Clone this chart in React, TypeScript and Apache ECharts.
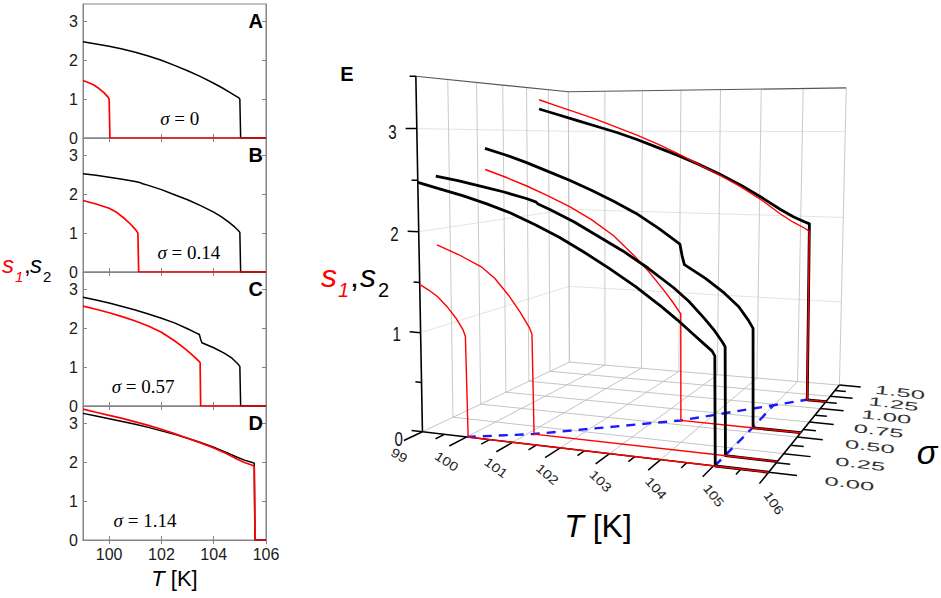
import React, { useEffect, useRef } from "react";
import * as echarts from "echarts";

const SANS = "'Liberation Sans', Arial, sans-serif";
const SERIF = "'Liberation Serif', 'Times New Roman', serif";

// ---------------- data ----------------
const sigmaValues = [0, 0.14, 0.57, 1.14];
const sigmaText = ["0", "0.14", "0.57", "1.14"];
const panelLetters = ["A", "B", "C", "D"];

// sigma = 0
const tS2_A = [99, 99.5, 100, 100.5, 101, 101.5, 102, 102.5, 103, 103.5, 104, 104.3, 104.6, 104.8, 104.95, 105, 105.03, 106];
const s2_A = [2.48, 2.42, 2.36, 2.29, 2.21, 2.11, 2.0, 1.87, 1.73, 1.58, 1.41, 1.3, 1.18, 1.1, 1.04, 1.0, 0, 0];
const tS1_A = [99, 99.2, 99.4, 99.6, 99.8, 99.95, 100, 100.03, 106];
const s1_A = [1.48, 1.43, 1.37, 1.28, 1.17, 1.06, 1.0, 0, 0];
// sigma = 0.14
const tS2_B = [99, 99.5, 100, 100.5, 101, 101.2, 101.25, 101.5, 102, 102.5, 103, 103.5, 104, 104.3, 104.6, 104.8, 104.95, 105, 105.03, 106];
const s2_B = [2.53, 2.49, 2.44, 2.39, 2.33, 2.3, 2.28, 2.23, 2.12, 1.99, 1.86, 1.71, 1.54, 1.42, 1.27, 1.16, 1.06, 1.02, 0, 0];
const tS1_B = [99, 99.5, 100, 100.3, 100.6, 100.85, 101.05, 101.1, 101.13, 106];
const s1_B = [1.84, 1.75, 1.64, 1.53, 1.37, 1.21, 1.06, 1.0, 0, 0];
// sigma = 0.57
const tS2_C = [99, 99.5, 100, 100.5, 101, 101.5, 102, 102.5, 103, 103.3, 103.45, 103.5, 103.55, 104, 104.4, 104.7, 104.9, 105, 105.03, 106];
const s2_C = [2.8, 2.73, 2.65, 2.56, 2.47, 2.37, 2.26, 2.14, 1.99, 1.89, 1.84, 1.72, 1.63, 1.5, 1.36, 1.23, 1.1, 1.02, 0, 0];
const tS1_C = [99, 99.5, 100, 100.5, 101, 101.5, 102, 102.5, 102.8, 103.1, 103.3, 103.45, 103.48, 103.5, 106];
const s1_C = [2.57, 2.49, 2.4, 2.3, 2.19, 2.06, 1.9, 1.68, 1.53, 1.36, 1.24, 1.14, 1.12, 0, 0];
// sigma = 1.14
const tS2_D = [99, 99.5, 100, 100.5, 101, 101.5, 102, 102.5, 103, 103.5, 104, 104.5, 104.9, 105.2, 105.45, 105.55, 105.58, 106];
const s2_D = [3.26, 3.19, 3.12, 3.05, 2.98, 2.9, 2.81, 2.72, 2.62, 2.51, 2.39, 2.25, 2.13, 2.05, 2.0, 1.98, 0, 0];
const tS1_D = [99, 99.5, 100, 100.5, 101, 101.5, 102, 102.5, 103, 103.5, 104, 104.5, 104.9, 105.2, 105.45, 105.55, 105.58, 106];
const s1_D = [3.37, 3.29, 3.21, 3.13, 3.04, 2.95, 2.85, 2.74, 2.62, 2.5, 2.37, 2.22, 2.08, 1.99, 1.93, 1.9, 0, 0];

// phase-boundary lines on the floor of panel E
const tc1Sigma = [0, 0.14, 0.57, 1.14];
const tc1T = [100.0, 101.12, 103.5, 105.56];
const tc2Sigma = [0, 0.14, 0.57, 0.98];
const tc2T = [105.02, 105.02, 105.02, 104.99];

// ticks
const tTicks2D = [100, 102, 104, 106];
const sTicks2D = [0, 1, 2, 3];
const tTicks3D = [99, 100, 101, 102, 103, 104, 105, 106];
const sigmaTicks3D = [0, 0.25, 0.5, 0.75, 1.0, 1.25, 1.5];
const sigmaTickLabels = ["0.00", "0.25", "0.50", "0.75", "1.00", "1.25", "1.50"];
const sTicks3D = [0, 1, 2, 3];

// ---------------- panel-E camera (box corners on the page) ----------------
const boxCalib = [
  [99, 0, 0, 423, 432],
  [99, 0, 1, 420, 334],
  [99, 0, 2, 418, 232],
  [99, 0, 3, 417, 128],
  [99, 0, 3.5, 416, 76],
  [99, 0.5, 3.5, 477, 82],
  [99, 1.0, 3.5, 527, 88],
  [99, 1.5, 0, 569, 362],
  [99, 1.5, 3.5, 568, 92],
  [102, 1.5, 3.5, 681, 90],
  [106, 1.5, 0, 840, 385],
  [106, 1.5, 3.5, 846, 88],
  [106, 0, 0, 767, 475],
  [100, 0, 0, 467, 436],
  [105, 0, 0, 715, 463],
];

function fitCamera(pts: number[][]) {
  const A: number[][] = [];
  const b: number[] = [];
  for (const [T, g, s, px, py] of pts) {
    const X = (T - 99) / 7, Y = g / 1.5, Z = s / 3.5;
    const u = (px - 600) / 300, v = (py - 300) / 300;
    A.push([X, Y, Z, 1, 0, 0, 0, 0, -u * X, -u * Y, -u * Z]);
    b.push(u);
    A.push([0, 0, 0, 0, X, Y, Z, 1, -v * X, -v * Y, -v * Z]);
    b.push(v);
  }
  const n = 11;
  const M = Array.from({ length: n }, () => new Array(n + 1).fill(0));
  for (let k = 0; k < A.length; k++) {
    for (let i = 0; i < n; i++) {
      for (let j = 0; j < n; j++) M[i][j] += A[k][i] * A[k][j];
      M[i][n] += A[k][i] * b[k];
    }
  }
  for (let i = 0; i < n; i++) M[i][i] += 1e-7;
  for (let c = 0; c < n; c++) {
    let piv = c;
    for (let r = c + 1; r < n; r++) if (Math.abs(M[r][c]) > Math.abs(M[piv][c])) piv = r;
    const tmp = M[c]; M[c] = M[piv]; M[piv] = tmp;
    for (let r = 0; r < n; r++) {
      if (r === c) continue;
      const f = M[r][c] / M[c][c];
      for (let j = c; j <= n; j++) M[r][j] -= f * M[c][j];
    }
  }
  return M.map((row, i) => row[n] / row[i]);
}
const P = fitCamera(boxCalib);
function proj(T: number, g: number, s: number): [number, number] {
  const X = (T - 99) / 7, Y = g / 1.5, Z = s / 3.5;
  const w = P[8] * X + P[9] * Y + P[10] * Z + 1;
  const u = (P[0] * X + P[1] * Y + P[2] * Z + P[3]) / w;
  const v = (P[4] * X + P[5] * Y + P[6] * Z + P[7]) / w;
  return [u * 300 + 600, v * 300 + 300];
}

// ---------------- helpers ----------------
const zip = (a: number[], b: number[]) => a.map((x, i) => [x, b[i]]);

function txt(x: number, y: number, text: string, o: any = {}) {
  const style: any = {
    text,
    fill: o.color || "#000",
    fontSize: o.size || 14,
    fontFamily: o.family || SANS,
    fontStyle: o.italic ? "italic" : "normal",
    fontWeight: o.bold ? "bold" : "normal",
    align: o.align || "center",
    textAlign: o.align || "center",
    verticalAlign: "middle",
    textVerticalAlign: "middle",
  };
  if (o.rich) style.rich = o.rich;
  return {
    type: "text",
    x,
    y,
    rotation: o.rot || 0,
    scaleX: o.sx || 1,
    scaleY: o.sy || 1,
    silent: true,
    z: 100,
    style,
  };
}

function buildOption() {
  const GRID_LEFT = 83, GRID_W = 183, GRID_H = 134;
  const GRID_TOPS = [4, 138, 272, 406];
  const Y_MAX = 3.45;
  const slices = [
    { tS2: tS2_A, s2: s2_A, tS1: tS1_A, s1: s1_A },
    { tS2: tS2_B, s2: s2_B, tS1: tS1_B, s1: s1_B },
    { tS2: tS2_C, s2: s2_C, tS1: tS1_C, s1: s1_C },
    { tS2: tS2_D, s2: s2_D, tS1: tS1_D, s1: s1_D },
  ];
  const frame = "#858585";
  const grid: any[] = [];
  const xAxis: any[] = [];
  const yAxis: any[] = [];
  const series: any[] = [];
  const graphic: any[] = [];

  slices.forEach((sl, i) => {
    grid.push({ left: GRID_LEFT, top: GRID_TOPS[i], width: GRID_W, height: GRID_H, show: true, borderColor: frame, borderWidth: 1 });
    const tickCommon = { show: true, inside: true, length: 4, lineStyle: { color: frame, width: 1 } };
    xAxis.push({
      gridIndex: i, type: "value", min: 99, max: 106, position: "bottom",
      axisLine: { show: true, lineStyle: { color: frame, width: 1 } },
      axisTick: { ...tickCommon, customValues: tTicks2D },
      axisLabel: { show: i === 3, customValues: tTicks2D, fontSize: 16, color: "#1a1a1a", fontFamily: SANS, margin: 6 },
      splitLine: { show: false },
    });
    xAxis.push({
      gridIndex: i, type: "value", min: 99, max: 106, position: "top",
      axisLine: { show: true, lineStyle: { color: frame, width: 1 } },
      axisTick: { ...tickCommon, customValues: tTicks2D },
      axisLabel: { show: false },
      splitLine: { show: false },
    });
    yAxis.push({
      gridIndex: i, type: "value", min: 0, max: Y_MAX, position: "left",
      axisLine: { show: true, lineStyle: { color: frame, width: 1 } },
      axisTick: { ...tickCommon, customValues: sTicks2D },
      axisLabel: { show: true, customValues: sTicks2D, fontSize: 16, color: "#1a1a1a", fontFamily: SANS, margin: 5 },
      splitLine: { show: false },
    });
    yAxis.push({
      gridIndex: i, type: "value", min: 0, max: Y_MAX, position: "right",
      axisLine: { show: true, lineStyle: { color: frame, width: 1 } },
      axisTick: { ...tickCommon, customValues: sTicks2D },
      axisLabel: { show: false },
      splitLine: { show: false },
    });
    series.push({
      type: "line", xAxisIndex: i * 2, yAxisIndex: i * 2, data: zip(sl.tS2, sl.s2),
      symbol: "none", showSymbol: false, lineStyle: { color: "#000", width: 1.5 }, z: 3, silent: true,
    });
    series.push({
      type: "line", xAxisIndex: i * 2, yAxisIndex: i * 2, data: zip(sl.tS1, sl.s1),
      symbol: "none", showSymbol: false, lineStyle: { color: "#ff0000", width: 1.7 }, z: 4, silent: true,
    });
    graphic.push(txt(263, GRID_TOPS[i] + 17, panelLetters[i], { size: 20, bold: true, align: "right" }));
  });

  // sigma labels inside panels
  const sigmaAnchor = [[102.7, 0.5], [103.05, 0.5], [101.3, 0.49], [101.37, 0.5]];
  sigmaAnchor.forEach(([T, s], i) => {
    const px = GRID_LEFT + ((T - 99) / 7) * GRID_W;
    const py = GRID_TOPS[i] + ((Y_MAX - s) / Y_MAX) * GRID_H;
    graphic.push(
      txt(px, py, "{i|σ} = " + sigmaText[i], {
        size: 19, family: SERIF,
        rich: { i: { fontStyle: "italic", fontSize: 19, fontFamily: SERIF, fill: "#000" } },
      })
    );
  });

  // left axis titles
  graphic.push(txt(2, 264, "s", { size: 24, italic: true, color: "#ff0000", align: "left" }));
  graphic.push(txt(15, 276, "1", { size: 15, italic: true, color: "#ff0000", align: "left" }));
  graphic.push(txt(24, 264, ",", { size: 24, align: "left" }));
  graphic.push(txt(30, 264, "s", { size: 24, italic: true, align: "left" }));
  graphic.push(txt(43, 276, "2", { size: 15, align: "left" }));
  graphic.push(
    txt(GRID_LEFT + GRID_W / 2, 578, "{i|T} [K]", {
      size: 22, rich: { i: { fontStyle: "italic", fontSize: 22, fontFamily: SANS, fill: "#000" } },
    })
  );

  // ---------------- panel E ----------------
  const SX = 8, SY = 8; // indices of the page-pixel axes
  grid.push({ left: 0, top: 0, width: 941, height: 598, show: false });
  xAxis.push({ gridIndex: 4, type: "value", min: 0, max: 941, show: false });
  yAxis.push({ gridIndex: 4, type: "value", min: 0, max: 598, inverse: true, show: false });

  const linesSeries = (polys: number[][][], style: any, z: number) => ({
    type: "lines", coordinateSystem: "cartesian2d", xAxisIndex: SX, yAxisIndex: SY,
    polyline: true, silent: true, z, animation: false,
    lineStyle: { opacity: 1, ...style },
    data: polys.map((c) => ({ coords: c })),
  });

  const sigmaGrid = sigmaTicks3D.slice(1);
  const floor: number[][][] = [];
  tTicks3D.forEach((T) => floor.push([proj(T, 0, 0), proj(T, 1.5, 0)]));
  sigmaGrid.forEach((g) => floor.push([proj(99, g, 0), proj(106, g, 0)]));
  const wallV: number[][][] = [];
  tTicks3D.forEach((T) => wallV.push([proj(T, 1.5, 0), proj(T, 1.5, 3.5)]));
  sigmaGrid.forEach((g) => wallV.push([proj(99, g, 0), proj(99, g, 3.5)]));
  const wallH: number[][][] = [1, 2, 3].map((s) => [proj(99, 0, s), proj(99, 1.5, s), proj(106, 1.5, s)]);
  const topEdge = [[proj(99, 0, 3.5), proj(99, 1.5, 3.5), proj(106, 1.5, 3.5)]];
  const axes3D = [
    [proj(99, 0, 0), proj(99, 0, 3.5)],
    [proj(99, 0, 0), proj(106, 0, 0)],
    [proj(106, 0, 0), proj(106, 1.5, 0)],
  ];
  const ticks3D: number[][][] = [];
  for (let k = 0; k <= 7; k++) {
    const s = k * 0.5;
    ticks3D.push([proj(99, 0, s), proj(99 - (k % 2 === 0 ? 0.25 : 0.14), 0, s)]);
  }
  for (let k = 0; k <= 14; k++) {
    const T = 99 + k * 0.5;
    ticks3D.push([proj(T, 0, 0), proj(T, -(k % 2 === 0 ? 0.14 : 0.07), 0)]);
  }
  for (let k = 0; k <= 12; k++) {
    const g = k * 0.125;
    ticks3D.push([proj(106, g, 0), proj(106 + (k % 2 === 0 ? 0.5 : 0.25), g, 0)]);
  }

  series.push(linesSeries(wallH, { color: "#e4e4e4", width: 1 }, 10));
  series.push(linesSeries(floor, { color: "#bdbdbd", width: 0.9 }, 11));
  series.push(linesSeries(wallV, { color: "#c4c4c4", width: 0.9 }, 11));
  series.push(linesSeries(topEdge, { color: "#555", width: 1.1 }, 12));
  series.push(linesSeries(axes3D, { color: "#000", width: 1.6 }, 13));
  series.push(linesSeries(ticks3D, { color: "#000", width: 1.5 }, 13));

  const tc1 = tc1T.map((T, i) => proj(T, tc1Sigma[i], 0));
  const tc2 = tc2T.map((T, i) => proj(T, tc2Sigma[i], 0));
  series.push(linesSeries([tc1, tc2], { color: "#1a1aff", width: 2.4, type: [9, 7] }, 14));

  // curves, back slice first
  for (let i = slices.length - 1; i >= 0; i--) {
    const sl = slices[i];
    const g = sigmaValues[i];
    const blk = sl.tS2.map((T, k) => proj(T, g, sl.s2[k]));
    const red = sl.tS1.map((T, k) => proj(T, g, sl.s1[k]));
    series.push(linesSeries([blk], { color: "#000", width: 2.8, join: "round" }, 20 + (3 - i) * 2));
    series.push(linesSeries([red], { color: "#ff0000", width: 1.4 }, 21 + (3 - i) * 2));
  }

  // panel E texts
  sTicks3D.forEach((s) => {
    const [x, y] = proj(98.45, 0, s);
    graphic.push(txt(x, y + (s === 0 ? 10 : 3), String(s), { size: 21, sx: 0.72, color: "#111" }));
  });
  tTicks3D.forEach((T) => {
    const [x, y] = proj(T + 0.45, -0.32, 0);
    const rot = -((30 + (T - 99) * 3.6) * Math.PI) / 180;
    graphic.push(txt(x, y, String(T), { size: 15, rot, sy: 0.85, color: "#222" }));
  });
  sigmaTicks3D.forEach((g, k) => {
    const [x, y] = proj(107.4, g, 0);
    graphic.push(txt(x, y + 2, sigmaTickLabels[k], { size: 12, sx: 2.15, rot: -0.12, color: "#333" }));
  });
  graphic.push(txt(927, 452, "σ", { size: 34, italic: true }));
  graphic.push(
    txt(598, 526, "{i|T} [K]", {
      size: 32, rich: { i: { fontStyle: "italic", fontSize: 32, fontFamily: SANS, fill: "#000" } },
    })
  );
  graphic.push(txt(347, 74, "E", { size: 20, bold: true }));
  graphic.push(txt(321, 276, "s", { size: 32, italic: true, color: "#ff0000", align: "left" }));
  graphic.push(txt(338, 290, "1", { size: 20, italic: true, color: "#ff0000", align: "left" }));
  graphic.push(txt(350, 276, ",", { size: 32, align: "left" }));
  graphic.push(txt(360, 276, "s", { size: 32, italic: true, align: "left" }));
  graphic.push(txt(378, 290, "2", { size: 20, align: "left" }));

  return {
    animation: false,
    backgroundColor: "#ffffff",
    grid,
    xAxis,
    yAxis,
    series,
    graphic: { elements: graphic },
  };
}

export default function App() {
  const ref = useRef<HTMLDivElement>(null);
  useEffect(() => {
    document.body.style.margin = "0";
    const chart = echarts.init(ref.current as HTMLDivElement, null, { renderer: "svg" });
    chart.setOption(buildOption() as any);
    return () => chart.dispose();
  }, []);
  return <div ref={ref} style={{ width: 941, height: 598 }} />;
}
